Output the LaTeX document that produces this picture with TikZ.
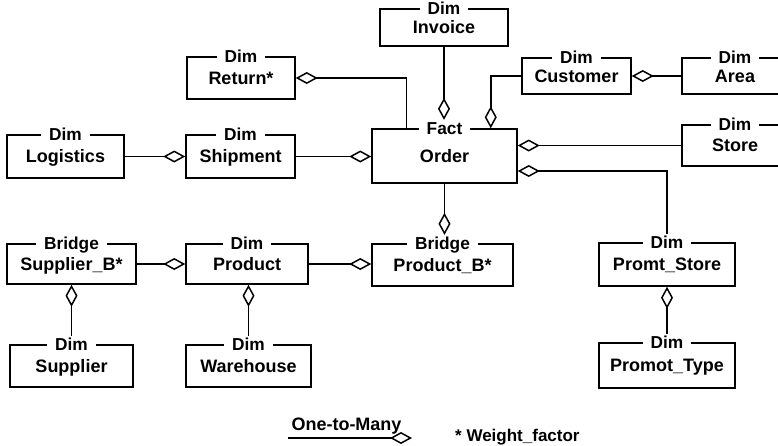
\documentclass[tikz,border=0pt]{standalone}
\usepackage{fontspec}
\setsansfont{Liberation Sans}
\usetikzlibrary{positioning,arrows.meta,calc}

\begin{document}
\begin{tikzpicture}[x=1pt,y=-1pt,
  ent/.style={draw,line width=1.5pt,inner sep=0pt,text height=12.9pt,text depth=0pt,
    font=\sffamily\bfseries\fontsize{18}{20}\selectfont},
  ttl/.style={fill=white,inner xsep=8pt,inner ysep=2pt,text height=12.4pt,text depth=0pt,
    font=\sffamily\bfseries\fontsize{17.3}{19}\selectfont},
  agg/.style={line width=1.5pt,-{Diamond[open,length=22pt,width=12pt]}},
  legtxt/.style={inner sep=0pt,font=\sffamily\bfseries\fontsize{18}{20}\selectfont},
]
\clip (0,0) rectangle (778,445);
% --- fact table ---
\node[ent,minimum width=145,minimum height=54] (order) at (444.5,156) {Order};
\node[ttl] (order-t) at (order.north) {Fact};
% --- upper dimensions ---
\node[ent,minimum width=128,minimum height=37] (invoice) at (444,27.5) {Invoice};
\node[ttl] (invoice-t) at (invoice.north) {Dim};
\node[ent,minimum width=108,minimum height=42] (return) at (241,78) {Return*};
\node[ttl] (return-t) at (return.north) {Dim};
\node[ent,minimum width=109,minimum height=36] (customer) at (576.5,76) {Customer};
\node[ttl] (customer-t) at (customer.north) {Dim};
\node[ent,minimum width=106,minimum height=36] (area) at (735,76) {Area};
\node[ttl] (area-t) at (area.north) {Dim};
\node[ent,minimum width=106,minimum height=41] (store) at (735,145.5) {Store};
\node[ttl] (store-t) at (store.north) {Dim};
\node[ent,minimum width=117,minimum height=43] (logistics) at (65.5,156.5) {Logistics};
\node[ttl] (logistics-t) at (logistics.north) {Dim};
\node[ent,minimum width=109,minimum height=43] (shipment) at (240.5,156.5) {Shipment};
\node[ttl] (shipment-t) at (shipment.north) {Dim};
% --- lower row ---
\node[ent,minimum width=129,minimum height=40] (suppb) at (71.5,264) {Supplier\_B*};
\node[ttl] (suppb-t) at (suppb.north) {Bridge};
\node[ent,minimum width=122,minimum height=40] (product) at (247,264) {Product};
\node[ttl] (product-t) at (product.north) {Dim};
\node[ent,minimum width=141,minimum height=42] (prodb) at (442.5,265) {Product\_B*};
\node[ttl] (prodb-t) at (prodb.north) {Bridge};
\node[ent,minimum width=136,minimum height=43] (promt) at (667,264.5) {Promt\_Store};
\node[ttl] (promt-t) at (promt.north) {Dim};
\node[ent,minimum width=123,minimum height=42] (supp) at (71.5,366) {Supplier};
\node[ttl] (supp-t) at (supp.north) {Dim};
\node[ent,minimum width=125,minimum height=42] (ware) at (248.5,366) {Warehouse};
\node[ttl] (ware-t) at (ware.north) {Dim};
\node[ent,minimum width=136,minimum height=45] (type) at (667,365.5) {Promot\_Type};
\node[ttl] (type-t) at (type.north) {Dim};
% --- one-to-many links ---
\draw[agg] (invoice.south) -- (invoice.south |- order-t.north);
\draw[agg] ([xshift=35pt]order.north west) |- (return.east);
\draw[agg] (customer.west) -| ([xshift=-27pt]order.north east);
\draw[agg] (area.west) -- (customer.east);
\draw[agg] (store.west) -- (store.west -| order.east);
\draw[agg] (promt-t.north) |- ([yshift=-15pt]order.east);
\draw[agg] (logistics.east) -- (shipment.west);
\draw[agg] (shipment.east) -- (shipment.east -| order.west);
\draw[agg] (order.south) -- (order.south |- prodb-t.north);
\draw[agg] (suppb.east) -- (product.west);
\draw[agg] (product.east) -- (product.east -| prodb.west);
\draw[agg] (supp-t.north) -- (suppb.south);
\draw[agg] (ware-t.north) -- (ware-t.north |- product.south);
\draw[agg] (type-t.north) -- (promt.south);
% --- legend ---
\coordinate (leg-a) at (288,438);
\coordinate (leg-b) at (412,438);
\draw[agg] (leg-a) -- (leg-b);
\node[legtxt,anchor=base] (leg-l) at (346.5,430) {One-to-Many};
\node[legtxt,anchor=base west,font=\sffamily\bfseries\fontsize{17}{19}\selectfont] (leg-w) at (455,441) {* Weight\_factor};
\end{tikzpicture}
\end{document}
